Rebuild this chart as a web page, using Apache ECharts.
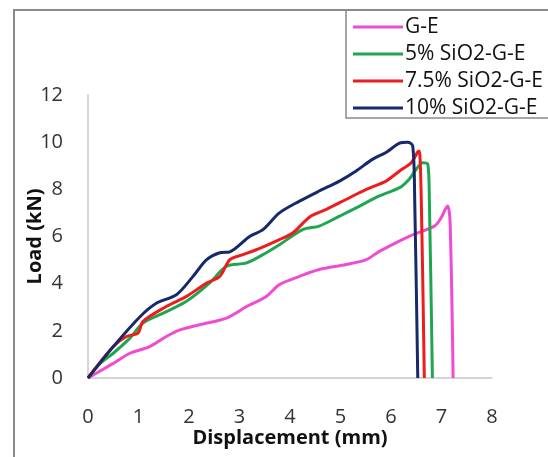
<!DOCTYPE html>
<html>
<head>
<meta charset="utf-8">
<script src="https://cdn.jsdelivr.net/npm/echarts@6/dist/echarts.min.js"></script>
<style>
html,body{margin:0;padding:0;background:#fff;}
#main{width:548px;height:457px;}
</style>
</head>
<body>
<div id="main"></div>
<script>
var seriesNames = ['G-E', '5% SiO2-G-E', '7.5% SiO2-G-E', '10% SiO2-G-E'];
var xTicks = [0, 1, 2, 3, 4, 5, 6, 7, 8];
var yTicks = [0, 2, 4, 6, 8, 10, 12];

// [displacement, load]
var ge = [[0,0],[0.5,0.62],[0.83,1.05],[1.22,1.33],[1.55,1.76],[1.82,2.04],[2.21,2.26],[2.74,2.54],
	[3.14,3.03],[3.53,3.46],[3.79,3.96],[4.19,4.31],[4.58,4.6],[5.11,4.81],[5.51,5.02],[5.77,5.37],
	[6.36,6.01],[6.86,6.44],[6.98,6.75],[7.12,7.29],[7.17,6.6],[7.23,0]];
var sio5 = [[0,0],[0.24,0.62],[0.5,1.05],[0.83,1.69],[1.09,2.33],[1.49,2.75],[1.95,3.25],[2.41,4.03],
	[2.74,4.74],[3.14,4.88],[3.53,5.31],[3.79,5.65],[4.26,6.3],[4.58,6.44],[4.98,6.86],[5.38,7.29],
	[5.77,7.72],[6.17,8.07],[6.36,8.43],[6.5,8.85],[6.63,9.13],[6.73,9.06],[6.76,7.5],[6.82,0]];
var sio75 = [[0,0],[0.5,1.33],[0.76,1.76],[0.99,1.9],[1.09,2.4],[1.55,3.03],[1.95,3.46],[2.35,4.03],
	[2.61,4.31],[2.81,5.02],[3.07,5.23],[3.4,5.5],[3.79,5.87],[4.06,6.16],[4.39,6.83],[4.72,7.15],
	[5.11,7.57],[5.51,8.0],[5.9,8.35],[6.17,8.78],[6.4,9.13],[6.53,9.59],[6.56,9.63],[6.6,7.5],[6.66,0]];
var sio10 = [[0,0],[0.5,1.33],[1.03,2.6],[1.36,3.18],[1.75,3.53],[2.08,4.31],[2.35,5.02],[2.61,5.31],
	[2.81,5.35],[3.2,6.0],[3.47,6.3],[3.79,7.0],[4.19,7.5],[4.58,7.93],[4.98,8.35],[5.31,8.78],
	[5.64,9.28],[5.9,9.56],[6.17,9.96],[6.33,10.0],[6.43,9.84],[6.47,7.5],[6.53,0]];

var colors = ['#f04cd2', '#1fa650', '#ee1c1c', '#16296b'];

var myChart = echarts.init(document.getElementById('main'));

function mkSeries(name, data, i) {
	return {
		name: name,
		type: 'line',
		data: data,
		symbol: 'none',
		smooth: 0.3,
		lineStyle: {
			width: 3,
			color: colors[i]
		},
		itemStyle: {
			color: colors[i]
		}
	};
}

var option = {
	backgroundColor: '#fff',
	animation: false,
	grid: {
		left: 88,
		right: 56,
		top: 95,
		bottom: 79
	},
	legend: {
		orient: 'vertical',
		left: 353,
		top: 16,
		icon: 'rect',
		itemWidth: 50,
		itemHeight: 3,
		itemGap: 5,
		padding: 0,
		textStyle: {
			fontSize: 21,
			lineHeight: 22,
			color: '#111',
			fontFamily: 'Open Sans',
			padding: [0, 0, 0, -3]
		},
		data: seriesNames
	},
	xAxis: {
		type: 'value',
		min: xTicks[0],
		max: xTicks[xTicks.length - 1],
		interval: 1,
		name: 'Displacement (mm)',
		nameLocation: 'middle',
		nameGap: 50,
		nameMoveOverlap: false,
		nameTextStyle: {
			fontSize: 20,
			fontWeight: 'bold',
			color: '#111',
			fontFamily: 'Open Sans'
		},
		axisLine: {
			show: true,
			lineStyle: {
				color: '#c8c8c8',
				width: 1.5
			}
		},
		axisTick: {
			show: false
		},
		splitLine: {
			show: false
		},
		axisLabel: {
			margin: 29,
			fontSize: 20,
			color: '#333',
			fontFamily: 'Open Sans'
		}
	},
	yAxis: {
		type: 'value',
		min: yTicks[0],
		max: yTicks[yTicks.length - 1],
		interval: 2,
		name: 'Load (kN)',
		nameLocation: 'middle',
		nameGap: 43,
		nameMoveOverlap: false,
		nameTextStyle: {
			fontSize: 20,
			fontWeight: 'bold',
			color: '#111',
			fontFamily: 'Open Sans'
		},
		axisLine: {
			show: true,
			lineStyle: {
				color: '#c8c8c8',
				width: 1.5
			}
		},
		axisTick: {
			show: false
		},
		splitLine: {
			show: false
		},
		axisLabel: {
			margin: 25,
			fontSize: 20,
			color: '#333',
			fontFamily: 'Open Sans'
		}
	},
	graphic: [{
		type: 'rect',
		shape: { x: 14, y: 10, width: 600, height: 500 },
		style: { fill: 'none', stroke: '#8a8a8a', lineWidth: 2 },
		silent: true
	}, {
		type: 'rect',
		shape: { x: 346, y: 10, width: 260, height: 108 },
		style: { fill: 'none', stroke: '#8a8a8a', lineWidth: 1.5 },
		silent: true
	}],
	series: [
		mkSeries(seriesNames[0], ge, 0),
		mkSeries(seriesNames[1], sio5, 1),
		mkSeries(seriesNames[2], sio75, 2),
		mkSeries(seriesNames[3], sio10, 3)
	]
};
myChart.setOption(option);
</script>
</body>
</html>
